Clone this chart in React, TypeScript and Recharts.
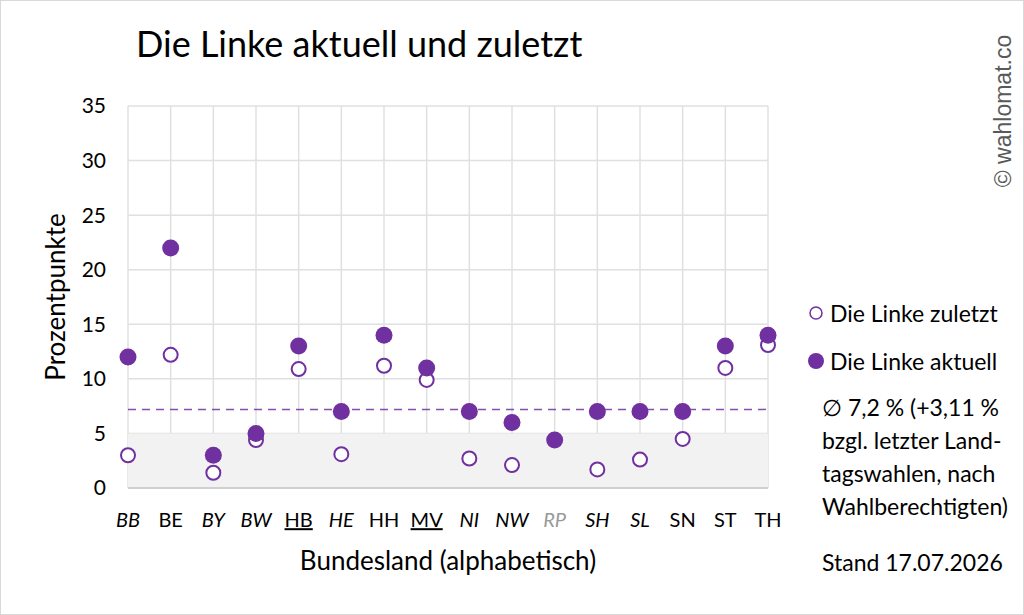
import React from 'react';
import {
  ScatterChart,
  Scatter,
  XAxis,
  YAxis,
  CartesianGrid,
  ReferenceArea,
  ReferenceLine,
  Legend,
} from 'recharts';

// Bundesländer, alphabetisch
const states = ['BB', 'BE', 'BY', 'BW', 'HB', 'HE', 'HH', 'MV', 'NI', 'NW', 'RP', 'SH', 'SL', 'SN', 'ST', 'TH'];
// Umfragewerte aktuell
const aktuell = [12, 22, 3, 5, 13, 7, 14, 11, 7, 6, 4.4, 7, 7, 7, 13, 14];
// Ergebnis letzte Landtagswahl (RP: kein Wert)
const zuletzt: (number | null)[] = [3, 12.2, 1.4, 4.4, 10.9, 3.1, 11.2, 9.9, 2.7, 2.1, null, 1.7, 2.6, 4.5, 11, 13.1];
const yTicks = [0, 5, 10, 15, 20, 25, 30, 35];
const average = 7.2;
const italicStates = ['BB', 'BY', 'BW', 'HE', 'NI', 'NW', 'RP', 'SH', 'SL'];
const underlinedStates = ['HB', 'MV'];
const greyStates = ['RP'];

const PURPLE = '#7030A0';
const FONT = 'Lato, "Open Sans", sans-serif';

const aktuellData = aktuell.map((v, i) => ({ idx: i, value: v }));
const zuletztData = zuletzt
  .map((v, i) => ({ idx: i, value: v }))
  .filter((d) => d.value !== null);

const StateTick = (props: any) => {
  const { x, y, payload } = props;
  const label = states[payload.value];
  return (
    <text
      x={x}
      y={y}
      dy="0.71em"
      textAnchor="middle"
      fontSize={20}
      fontFamily={FONT}
      fontStyle={italicStates.includes(label) ? 'italic' : 'normal'}
      textDecoration={underlinedStates.includes(label) ? 'underline' : 'none'}
      fill={greyStates.includes(label) ? '#999999' : '#000000'}
    >
      {label}
    </text>
  );
};

const OpenDot = (props: any) => (
  <circle cx={props.cx} cy={props.cy} r={7} fill="#ffffff" stroke={PURPLE} strokeWidth={2} />
);

const FilledDot = (props: any) => (
  <circle cx={props.cx} cy={props.cy} r={8.5} fill={PURPLE} />
);

const LegendContent = () => (
  <div style={{ fontFamily: FONT, fontSize: 23, color: '#000' }}>
    <div style={{ display: 'flex', alignItems: 'center', height: 30 }}>
      <svg width={18} height={18} style={{ marginRight: 5 }}>
        <circle cx={9} cy={9} r={6} fill="#fff" stroke={PURPLE} strokeWidth={1.5} />
      </svg>
      Die Linke zuletzt
    </div>
    <div style={{ display: 'flex', alignItems: 'center', height: 30, marginTop: 18 }}>
      <svg width={18} height={18} style={{ marginRight: 5 }}>
        <circle cx={9} cy={9} r={8} fill={PURPLE} />
      </svg>
      Die Linke aktuell
    </div>
  </div>
);

export default function App() {
  return (
    <div
      style={{
        position: 'absolute',
        left: 0,
        top: 0,
        width: 1022,
        height: 613,
        border: '1px solid #d9d9d9',
        background: '#fff',
        fontFamily: FONT,
      }}
    >
      <div style={{ position: 'absolute', left: 135, top: 20, fontSize: 36, color: '#000', whiteSpace: 'nowrap' }}>
        Die Linke aktuell und zuletzt
      </div>
      <div
        style={{
          position: 'absolute',
          left: 1002,
          top: 110,
          transform: 'translate(-50%, -50%) rotate(-90deg)',
          fontFamily: '"Liberation Sans", Arial, sans-serif',
          fontSize: 23,
          color: '#595959',
          whiteSpace: 'nowrap',
        }}
      >
        © wahlomat.co
      </div>
      <div
        style={{
          position: 'absolute',
          left: 821,
          top: 390,
          fontSize: 23,
          lineHeight: '33px',
          color: '#000',
          whiteSpace: 'nowrap',
        }}
      >
        <div>∅ 7,2 % (+3,11 %</div>
        <div>bzgl. letzter Land-</div>
        <div>tagswahlen, nach</div>
        <div>Wahlberechtigten)</div>
        <div style={{ marginTop: 23 }}>Stand 17.07.2026</div>
      </div>
      <ScatterChart
        width={1022}
        height={613}
        margin={{ top: 105, right: 45, bottom: 86, left: 67 }}
        style={{ position: 'absolute', left: 0, top: 0 }}
      >
        <ReferenceArea y1={0} y2={5} fill="#f2f2f2" fillOpacity={1} stroke="none" />
        <CartesianGrid stroke="#e0e0e0" strokeWidth={1.5} horizontalValues={yTicks} verticalValues={states.map((_, i) => i)} />
        <XAxis
          type="number"
          dataKey="idx"
          domain={[0, states.length - 1]}
          ticks={states.map((_, i) => i)}
          interval={0}
          tick={<StateTick />}
          tickLine={false}
          axisLine={{ stroke: '#d0d0d0', strokeWidth: 2 }}
          tickMargin={19}
          height={40}
          label={{
            value: 'Bundesland (alphabetisch)',
            position: 'insideBottom',
            offset: -42,
            fontSize: 26,
            fontFamily: FONT,
            fill: '#000',
          }}
        />
        <YAxis
          type="number"
          dataKey="value"
          domain={[0, 35]}
          ticks={yTicks}
          tickLine={false}
          axisLine={false}
          tickMargin={16}
          width={60}
          tick={{ fontSize: 21, fontFamily: FONT, fill: '#000' }}
          label={{
            value: 'Prozentpunkte',
            angle: -90,
            position: 'insideLeft',
            offset: -12,
            fontSize: 26,
            fontFamily: FONT,
            fill: '#000',
            style: { textAnchor: 'middle' },
          }}
        />
        <ReferenceLine
          y={average}
          stroke={PURPLE}
          strokeOpacity={0.85}
          strokeWidth={1.5}
          strokeDasharray="8 6"
          segment={[{ x: 0, y: average }, { x: 14.85, y: average }]}
        />
        <Legend
          layout="vertical"
          verticalAlign="top"
          align="right"
          content={<LegendContent />}
          wrapperStyle={{ position: 'absolute', left: 806, top: 297, width: 210 }}
        />
        <Scatter
          name="Die Linke zuletzt"
          data={zuletztData}
          shape={<OpenDot />}
          isAnimationActive={false}
        />
        <Scatter
          name="Die Linke aktuell"
          data={aktuellData}
          shape={<FilledDot />}
          isAnimationActive={false}
        />
      </ScatterChart>
    </div>
  );
}
